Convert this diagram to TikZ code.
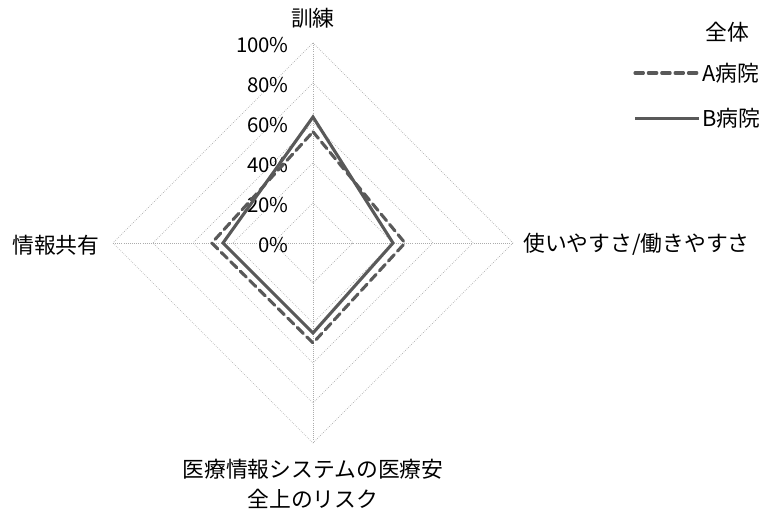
\documentclass[tikz,border=0pt]{standalone}
\usepackage{fontspec}
\setmainfont{Noto Sans CJK JP}
\usepackage{tikz}
\usepackage{xcolor}

\begin{document}
\begin{tikzpicture}[
            grid/.style = {densely dotted, gray!65, line width=0.5pt}, % chart grid
            hospA/.style = {black!65, line width=2.2pt, dash pattern=on 6pt off 3.5pt, line cap=round}, % A hospital
            hospB/.style = {black!65, line width=2.2pt, line join=miter}, % B hospital
            label/.style = {font=\fontsize{15.5}{21}\selectfont, inner sep=0pt},
            pct/.style = {font=\fontsize{14.5}{18}\selectfont, inner sep=0pt, anchor=east}
        ]
\useasboundingbox (-7.825,-6.75) rectangle (11.25,6.075);

% grid
\draw[grid] (0,1) -- (1,0) -- (0,-1) -- (-1,0) -- cycle;
\draw[grid] (0,2) -- (2,0) -- (0,-2) -- (-2,0) -- cycle;
\draw[grid] (0,3) -- (3,0) -- (0,-3) -- (-3,0) -- cycle;
\draw[grid] (0,4) -- (4,0) -- (0,-4) -- (-4,0) -- cycle;
\draw[grid] (0,5) -- (5,0) -- (0,-5) -- (-5,0) -- cycle;
\draw[grid] (0,5) -- (0,-5);
\draw[grid] (-5,0) -- (5,0);

% scale
\node[pct] (p100) at (-0.6,4.95) {100\%};
\node[pct] (p80) at (-0.6,3.95) {80\%};
\node[pct] (p60) at (-0.6,2.95) {60\%};
\node[pct] (p40) at (-0.6,1.95) {40\%};
\node[pct] (p20) at (-0.6,0.95) {20\%};
\node[pct] (p0) at (-0.6,-0.05) {0\%};

% axis labels
\node[label] (train) at (0,5.62) {訓練};
\node[label, anchor=west] (use) at (5.25,-0.02) {使いやすさ/働きやすさ};
\node[label, align=center] (risk) at (0,-6.02) {医療情報システムの医療安\\全上のリスク};
\node[label, anchor=east] (share) at (-5.33,-0.05) {情報共有};

% A
\coordinate (A1) at (0,2.78);
\coordinate (A2) at (2.3,0);
\coordinate (A3) at (0,-2.5);
\coordinate (A4) at (-2.53,0);
\draw[hospA] (A1) -- (A2) -- (A3) -- (A4) -- cycle;

% B
\coordinate (B1) at (0,3.15);
\coordinate (B2) at (2.0,0);
\coordinate (B3) at (0,-2.25);
\coordinate (B4) at (-2.25,0);
\draw[hospB] (B1) -- (B2) -- (B3) -- (B4) -- cycle;

% legend
\node[label] (all) at (10.35,5.27) {全体};
\node[label, anchor=west] (legA) at (9.72,4.25) {A病院};
\node[label, anchor=west] (legB) at (9.72,3.12) {B病院};
\coordinate (la) at (8.05,4.25);
\coordinate (lb) at (8.05,3.12);
\draw[hospA, shorten >=2pt] (la) -- (legA.west);
\draw[hospB, shorten >=2pt] (lb) -- (legB.west);
\end{tikzpicture}
\end{document}
